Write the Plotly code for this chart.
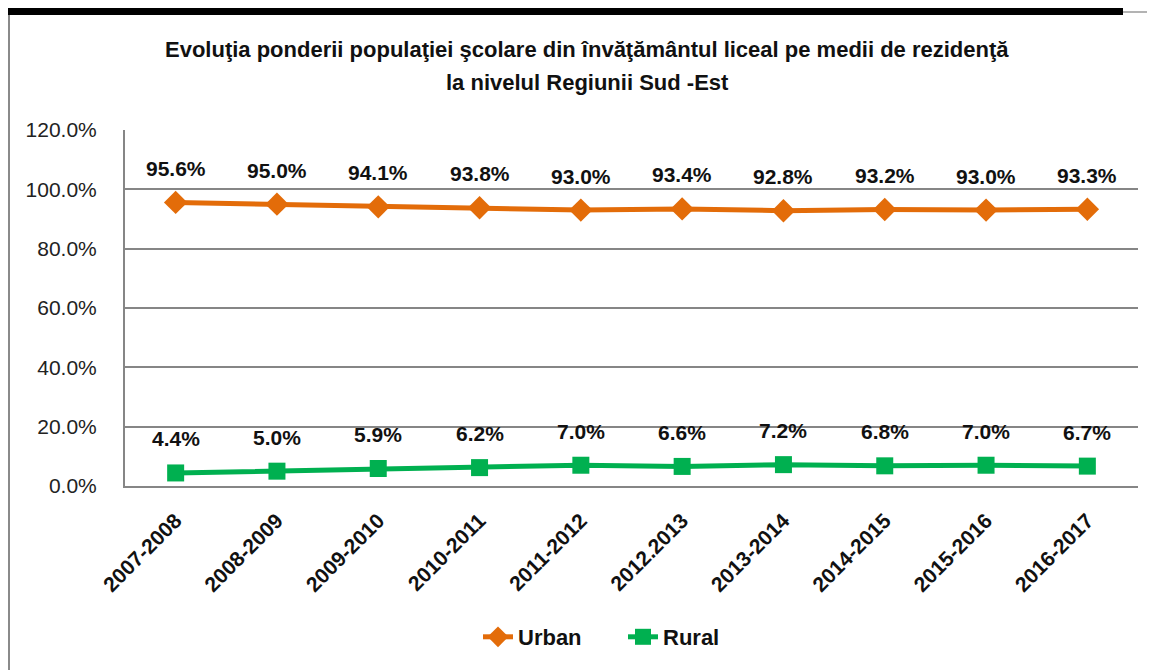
import plotly.graph_objects as go

years = ["2007-2008", "2008-2009", "2009-2010", "2010-2011", "2011-2012",
         "2012.2013", "2013-2014", "2014-2015", "2015-2016", "2016-2017"]
urban = [0.956, 0.950, 0.941, 0.938, 0.930, 0.934, 0.928, 0.932, 0.930, 0.933]
rural = [0.044, 0.050, 0.059, 0.062, 0.070, 0.066, 0.072, 0.068, 0.070, 0.067]

# page body has an 8px margin, so the figure starts at (8, 8) of the window
OFF = 8
W, H = 1155 - OFF, 670 - OFF
# plot area in window pixels
X0, X1, Y0, Y1 = 125, 1138, 130, 486
L, R, T, B = X0 - OFF, 1155 - X1, Y0 - OFF, 670 - Y1
PW, PH = X1 - X0, Y1 - Y0
FONT = "Liberation Sans, Arial, sans-serif"
GRID = "#868686"


def px(x):
    return (x - X0) / PW


def py(y):
    return (Y1 - y) / PH


fig = go.Figure()

fig.add_trace(go.Scatter(
    x=years, y=urban, name="Urban", mode="lines+markers",
    line=dict(color="#E36C09", width=5),
    marker=dict(symbol="diamond", size=18, color="#E36C09"),
))
fig.add_trace(go.Scatter(
    x=years, y=rural, name="Rural", mode="lines+markers",
    line=dict(color="#00B050", width=5),
    marker=dict(symbol="square", size=17, color="#00B050"),
))

annotations = []
for series in (urban, rural):
    for i, v in enumerate(series):
        # category index, so "2012.2013" is not read as a number
        annotations.append(dict(
            x=i, y=v, xref="x", yref="y", text=f"{v * 100:.1f}%",
            showarrow=False, yshift=34,
            font=dict(family=FONT, size=21, color="#111111", weight="bold"),
        ))

for text, yy in [
    ("Evoluţia ponderii populaţiei şcolare din învăţământul liceal pe medii de rezidenţă", 49),
    ("la nivelul Regiunii Sud -Est", 83),
]:
    annotations.append(dict(
        x=px(587), y=py(yy), xref="paper", yref="paper", showarrow=False,
        xanchor="center", yanchor="middle", text=text,
        font=dict(family=FONT, size=22, color="#111111", weight="bold"),
    ))

shapes = [
    dict(type="rect", xref="paper", yref="paper", x0=px(0), x1=px(1123),
         y0=py(8), y1=py(15), fillcolor="black", line=dict(width=0)),
    dict(type="line", xref="paper", yref="paper", x0=px(1123), x1=px(1155),
         y0=py(12), y1=py(12), line=dict(color="#9a9a9a", width=1.5)),
    dict(type="line", xref="paper", yref="paper", x0=px(9), x1=px(9),
         y0=py(15), y1=py(670), line=dict(color="#8a8a8a", width=2)),
]

fig.update_layout(
    width=W, height=H,
    margin=dict(l=L, r=R, t=T, b=B, autoexpand=False),
    paper_bgcolor="white", plot_bgcolor="white",
    showlegend=True,
    legend=dict(orientation="h", x=px(623), xanchor="center", y=py(637), yanchor="middle",
                entrywidth=100,
                font=dict(family=FONT, size=22, color="#111111", weight="bold")),
    annotations=annotations,
    shapes=shapes,
)

fig.update_xaxes(
    type="category", range=[-0.5, 9.5], tickangle=-45, showgrid=False,
    showline=True, linecolor=GRID, linewidth=2, automargin=False,
    tickfont=dict(family=FONT, size=21, color="#111111", weight="bold"),
    ticklabelstandoff=12,
)
fig.update_yaxes(
    range=[0, 1.2], dtick=0.2, tickformat=".1%",
    showgrid=True, gridcolor=GRID, gridwidth=2,
    showline=True, linecolor=GRID, linewidth=2,
    zeroline=False, automargin=False,
    tickfont=dict(family=FONT, size=21, color="#222222"),
    ticklabelstandoff=22,
)

fig.write_html("out.html")
